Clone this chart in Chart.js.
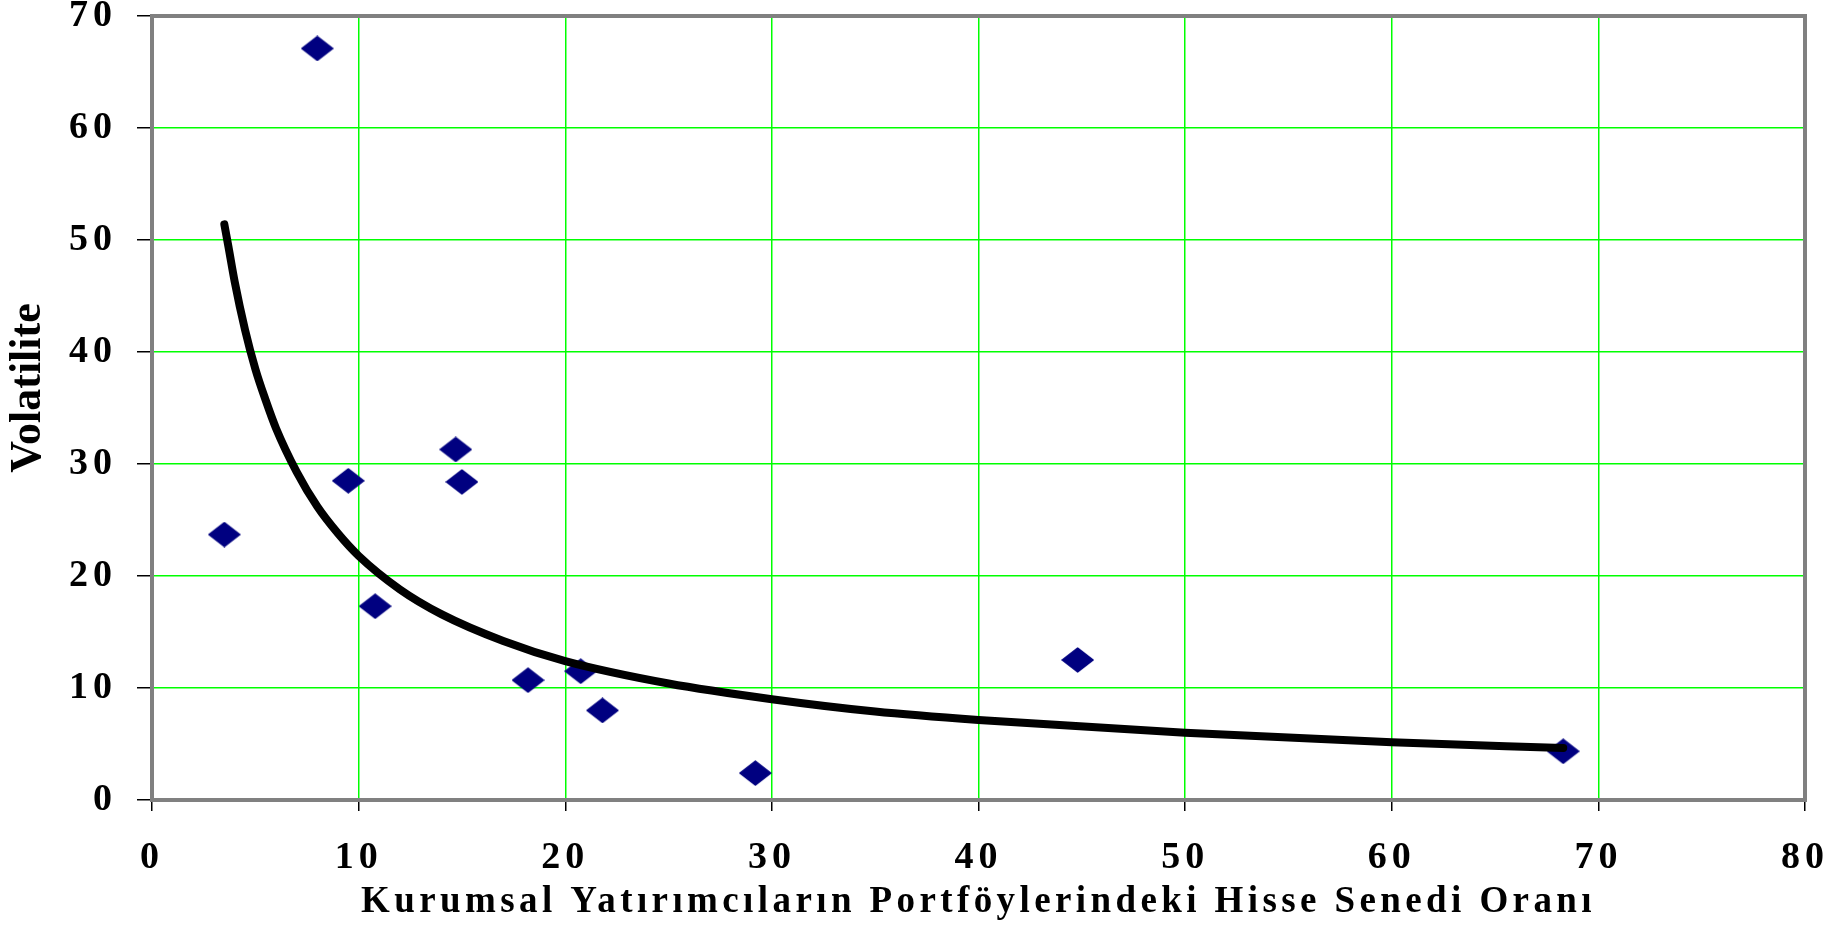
<!DOCTYPE html>
<html lang="tr">
<head>
  <meta charset="UTF-8">
  <title>Volatilite</title>
  <script src="https://cdn.jsdelivr.net/npm/chart.js@4.4.0/dist/chart.umd.min.js"></script>
  <style>
    html, body { margin: 0; padding: 0; background: #fff; }
    #wrap { width: 1836px; height: 926px; }
  </style>
</head>
<body>
  <div id="wrap"><canvas id="myChart" width="1836" height="926"></canvas></div>
  <script>
    // values
    var pointsX = [3.5, 8.0, 9.5, 10.8, 14.7, 15.0, 18.2, 20.75, 21.8, 29.2, 44.8, 68.3];
    var pointsY = [23.7, 67.1, 28.5, 17.3, 31.3, 28.4, 10.7, 11.5, 8.0, 2.4, 12.5, 4.35];

    // trend curve, points
    var trendX = [3.5, 3.7, 4, 4.5, 5, 5.5, 6, 7, 8, 9, 10, 12, 14, 17, 20, 25, 30, 35, 40, 50, 60, 68.3];
    var trendY = [51.4, 49.4, 46.3, 42.0, 38.5, 35.7, 33.2, 29.3, 26.2, 23.8, 21.8, 18.8, 16.6, 14.2, 12.4, 10.4, 9.0, 7.9, 7.15, 6.0, 5.15, 4.65];

    var xTicks = [0, 10, 20, 30, 40, 50, 60, 70, 80];
    var yTicks = [0, 10, 20, 30, 40, 50, 60, 70];

    var xTitle = "Kurumsal Yatırımcıların Portföylerindeki Hisse Senedi Oranı";
    var yTitle = "Volatilite";

    var serif = "'Liberation Serif', 'Times New Roman', serif";

    // wide navy diamond marker
    var diamond = document.createElement('canvas');
    diamond.width = 33; diamond.height = 26;
    var dctx = diamond.getContext('2d');
    dctx.fillStyle = '#000080';
    dctx.strokeStyle = '#000080';
    dctx.lineJoin = 'round';
    dctx.lineWidth = 1.5;
    dctx.beginPath();
    dctx.moveTo(16.5, 1);
    dctx.lineTo(32, 13);
    dctx.lineTo(16.5, 25);
    dctx.lineTo(1, 13);
    dctx.closePath();
    dctx.fill();
    dctx.stroke();

    function patchTitle(scale, spacing, shiftY) {
      if (scale._patched) return;
      var orig = scale.drawTitle;
      scale.drawTitle = function() {
        var c = this.ctx;
        var old = c.letterSpacing;
        c.save();
        c.letterSpacing = spacing;
        c.translate(0, shiftY);
        orig.apply(this, arguments);
        c.restore();
        c.letterSpacing = old;
      };
      scale._patched = true;
    }

    var spacingPlugin = {
      id: 'spacing',
      beforeLayout: function(chart) { chart.ctx.letterSpacing = '5px'; },
      beforeDraw: function(chart) { chart.ctx.letterSpacing = '5px'; },
      afterLayout: function(chart) {
        patchTitle(chart.scales.x, '4.4px', 0);
        patchTitle(chart.scales.y, '0px', -20);
      }
    };

    // gray frame round the plot area
    var framePlugin = {
      id: 'frame',
      beforeDatasetsDraw: function(chart) {
        var a = chart.chartArea, c = chart.ctx;
        c.save();
        c.strokeStyle = '#808080';
        c.lineWidth = 4;
        c.strokeRect(a.left, a.top, a.right - a.left, a.bottom - a.top);
        c.restore();
      }
    };

    var scatterData = pointsX.map(function(x, i) { return { x: x, y: pointsY[i] }; });
    var trendData = trendX.map(function(x, i) { return { x: x, y: trendY[i] }; });

    var ctx = document.getElementById('myChart').getContext('2d');
    var chart = new Chart(ctx, {
      type: 'scatter',
      data: {
        datasets: [{
          type: 'line',
          label: 'trend',
          data: trendData,
          borderColor: '#000',
          borderWidth: 8,
          borderCapStyle: 'round',
          borderJoinStyle: 'round',
          cubicInterpolationMode: 'monotone',
          pointRadius: 0,
          fill: false,
          order: 0
        }, {
          label: yTitle,
          data: scatterData,
          pointStyle: diamond,
          pointRadius: 14,
          order: 1
        }]
      },
      options: {
        responsive: false,
        devicePixelRatio: 1,
        animation: false,
        layout: { padding: { left: 0, top: 16, right: 31, bottom: 0 } },
        plugins: {
          legend: { display: false },
          tooltip: { enabled: false }
        },
        scales: {
          x: {
            type: 'linear',
            min: xTicks[0],
            max: xTicks[xTicks.length - 1],
            border: { display: false },
            grid: { color: '#00ff00', lineWidth: 1.5, tickColor: '#000', tickWidth: 1.5, tickLength: 11 },
            ticks: {
              stepSize: 10,
              padding: 24,
              color: '#000',
              maxRotation: 0,
              font: { family: serif, size: 38, weight: 'bold' }
            },
            title: {
              display: true,
              text: xTitle,
              color: '#000',
              padding: { top: 0, bottom: 1 },
              font: { family: serif, size: 37, weight: 'bold' }
            },
            afterFit: function(s) { s.height = 126; s.paddingLeft = 0; s.paddingRight = 0; }
          },
          y: {
            type: 'linear',
            min: yTicks[0],
            max: yTicks[yTicks.length - 1],
            border: { display: false },
            grid: { color: '#00ff00', lineWidth: 1.5, tickColor: '#000', tickWidth: 1.5, tickLength: 15 },
            ticks: {
              stepSize: 10,
              padding: 20,
              color: '#000',
              font: { family: serif, size: 38, weight: 'bold' }
            },
            title: {
              display: true,
              text: yTitle,
              color: '#000',
              padding: { top: 2, bottom: 0 },
              font: { family: serif, size: 44, weight: 'bold' }
            },
            afterFit: function(s) { s.width = 152; s.paddingTop = 0; s.paddingBottom = 0; }
          }
        }
      },
      plugins: [spacingPlugin, framePlugin]
    });
  </script>
</body>
</html>
